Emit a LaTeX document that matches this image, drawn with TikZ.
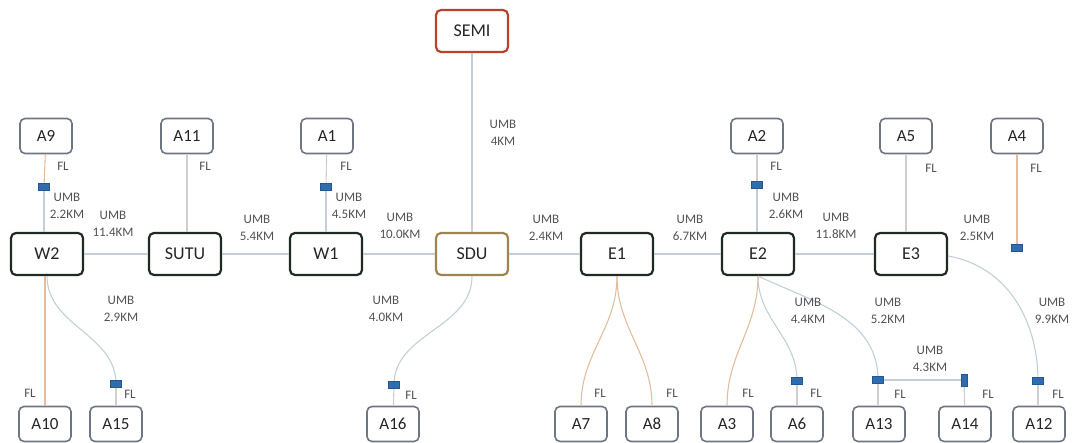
\documentclass[tikz,border=0pt]{standalone}
\usepackage{fontspec}
\setmainfont{Carlito}
\begin{document}
\begin{tikzpicture}[x=1pt,y=-1pt,
  box/.style={draw=#1, fill=white, rounded corners=5pt, line width=2.2pt,
    minimum width=72pt, minimum height=42pt, inner sep=0pt,
    font=\fontsize{18}{20}\selectfont, text=black!85},
  box/.default={mainbd},
  leaf/.style={draw=leafbd, fill=white, rounded corners=5pt,
    line width=1.6pt, minimum width=52pt, minimum height=35pt, inner sep=0pt,
    font=\fontsize{17}{19}\selectfont, text=black!85},
  lbl/.style={font=\fontsize{13}{17}\selectfont, text=black!68, align=center, inner sep=0pt},
  splice/.style={fill=splicefill, draw=splicebd, line width=0.4pt,
    minimum width=11pt, minimum height=7pt, inner sep=0pt},
  vsplice/.style={splice, minimum width=6pt, minimum height=12pt},
  umb/.style={draw=umbline, line width=1.1pt},
  fl/.style={draw=flline, line width=1.1pt},
  flg/.style={draw=flgray, line width=1.1pt},
]
\definecolor{umbline}{HTML}{C3CFD8}
\definecolor{flline}{HTML}{E3BE9C}
\definecolor{flgray}{HTML}{CFCFCF}
\definecolor{semired}{HTML}{B8432A}
\definecolor{sdugold}{HTML}{9C8550}
\definecolor{mainbd}{HTML}{1F2A22}
\definecolor{leafbd}{HTML}{6E7684}
\definecolor{splicefill}{HTML}{2F6DAE}
\definecolor{splicebd}{HTML}{24578F}

\useasboundingbox (0,0) rectangle (1073,443);

% backbone stations
\node[box=semired] (SEMI) at (472,31) {SEMI};
\node[box=mainbd] (W2) at (47,254) {W2};
\node[box=mainbd] (SUTU) at (185,254) {SUTU};
\node[box=mainbd] (W1) at (326,254) {W1};
\node[box=sdugold] (SDU) at (472,254) {SDU};
\node[box=mainbd] (E1) at (617,254) {E1};
\node[box=mainbd] (E2) at (758,254) {E2};
\node[box=mainbd] (E3) at (911,254) {E3};

% upper access points
\node[leaf] (A9) at (46,136) {A9};
\node[leaf] (A11) at (187,136) {A11};
\node[leaf] (A1) at (327,136) {A1};
\node[leaf] (A2) at (757,136) {A2};
\node[leaf] (A5) at (906,136) {A5};
\node[leaf] (A4) at (1017,136) {A4};

% lower access points
\node[leaf] (A10) at (45,424) {A10};
\node[leaf] (A15) at (116,424) {A15};
\node[leaf] (A16) at (393,424) {A16};
\node[leaf] (A7) at (581,424) {A7};
\node[leaf] (A8) at (652,424) {A8};
\node[leaf] (A3) at (727,424) {A3};
\node[leaf] (A6) at (797,424) {A6};
\node[leaf] (A13) at (879,424) {A13};
\node[leaf] (A14) at (965,424) {A14};
\node[leaf] (A12) at (1039,424) {A12};

% splice points
\coordinate (p9) at (44,187);
\coordinate (p1) at (326,187);
\coordinate (p2) at (757,185);
\coordinate (p4) at (1017,248);
\coordinate (p15) at (116,384);
\coordinate (p16) at (394,385);
\coordinate (p6) at (797,381);
\coordinate (p13) at (878,380);
\coordinate (p14) at (964,380);
\coordinate (p12) at (1038,381);

% UMB cables
\draw[umb] (SEMI) -- (SDU);
\draw[umb] (W2) -- (SUTU);
\draw[umb] (SUTU) -- (W1);
\draw[umb] (W1) -- (SDU);
\draw[umb] (SDU) -- (E1);
\draw[umb] (E1) -- (E2);
\draw[umb] (E2) -- (E3);
\draw[umb] (p9) -- (p9 |- W2.north);
\draw[umb] (p1) -- (p1 |- W1.north);
\draw[umb] (p2) -- (p2 |- E2.north);
\draw[umb] (W2.south) to[out=-90,in=90] (p15);
\draw[umb] (SDU.south) to[out=-90,in=90] (p16);
\draw[umb] (E2.south) to[out=-90,in=90] (p6);
\draw[umb] (E2.south) to[out=-25,in=90] (p13);
\draw[umb] (p13) -- (p14);
\draw[umb] ([yshift=-2pt]E3.east) to[out=-10,in=90] (p12);

% FL drops
\draw[fl] (A9) -- (p9);
\draw[flg] (A11) -- (A11 |- SUTU.north);
\draw[flg] (A1) -- (p1);
\draw[flg] (A2) -- (p2);
\draw[flg] (A5) -- (A5 |- E3.north);
\draw[fl] (A4) -- (p4);
\draw[fl] (A10.north) -- (A10.north |- W2.south);
\draw[flg] (p15) -- (A15);
\draw[flg] (p16) -- (A16);
\draw[fl] (E1.south) to[out=-90,in=90] (A7.north);
\draw[fl] (E1.south) to[out=-90,in=90] (A8.north);
\draw[fl] (E2.south) to[out=-90,in=90] (A3.north);
\draw[flg] (p6) -- (A6);
\draw[flg] (p13) -- (p13 |- A13.north);
\draw[flg] (p14) -- (A14);
\draw[flg] (p12) -- (p12 |- A12.north);

% splice markers
\node[splice] (s9) at (p9) {};
\node[splice] (s1) at (p1) {};
\node[splice] (s2) at (p2) {};
\node[splice] (s4) at (p4) {};
\node[splice] (s15) at (p15) {};
\node[splice] (s16) at (p16) {};
\node[splice] (s6) at (p6) {};
\node[splice] (s13) at (p13) {};
\node[vsplice] (s14) at (p14) {};
\node[splice] (s12) at (p12) {};

% cable labels
\node[lbl] (lSEMI) at (503,133) {UMB\\4KM};
\node[lbl] (l9) at (67,206) {UMB\\2.2KM};
\node[lbl] (lW2) at (113,224) {UMB\\11.4KM};
\node[lbl] (lSUTU) at (257,228) {UMB\\5.4KM};
\node[lbl] (l1) at (349,206) {UMB\\4.5KM};
\node[lbl] (lW1) at (400,226) {UMB\\10.0KM};
\node[lbl] (lSDU) at (546,228) {UMB\\2.4KM};
\node[lbl] (lE1) at (690,228) {UMB\\6.7KM};
\node[lbl] (l2) at (786,206) {UMB\\2.6KM};
\node[lbl] (lE2) at (836,226) {UMB\\11.8KM};
\node[lbl] (lE3) at (977,228) {UMB\\2.5KM};
\node[lbl] (l15) at (121,309) {UMB\\2.9KM};
\node[lbl] (l16) at (386,309) {UMB\\4.0KM};
\node[lbl] (l6) at (808,311) {UMB\\4.4KM};
\node[lbl] (l13) at (888,311) {UMB\\5.2KM};
\node[lbl] (l14) at (930,359) {UMB\\4.3KM};
\node[lbl] (l12) at (1052,311) {UMB\\9.9KM};

% FL labels
\node[lbl] (f9) at (63,166) {FL};
\node[lbl] (f11) at (205,166) {FL};
\node[lbl] (f1) at (346,166) {FL};
\node[lbl] (f2) at (776,166) {FL};
\node[lbl] (f5) at (931,168) {FL};
\node[lbl] (f4) at (1036,168) {FL};
\node[lbl] (f10) at (30,393) {FL};
\node[lbl] (f15) at (130,394) {FL};
\node[lbl] (f16) at (411,395) {FL};
\node[lbl] (f7) at (600,393) {FL};
\node[lbl] (f8) at (672,393) {FL};
\node[lbl] (f3) at (748,393) {FL};
\node[lbl] (f6) at (816,393) {FL};
\node[lbl] (f13) at (900,394) {FL};
\node[lbl] (f14) at (988,394) {FL};
\node[lbl] (f12) at (1058,394) {FL};
\end{tikzpicture}
\end{document}
